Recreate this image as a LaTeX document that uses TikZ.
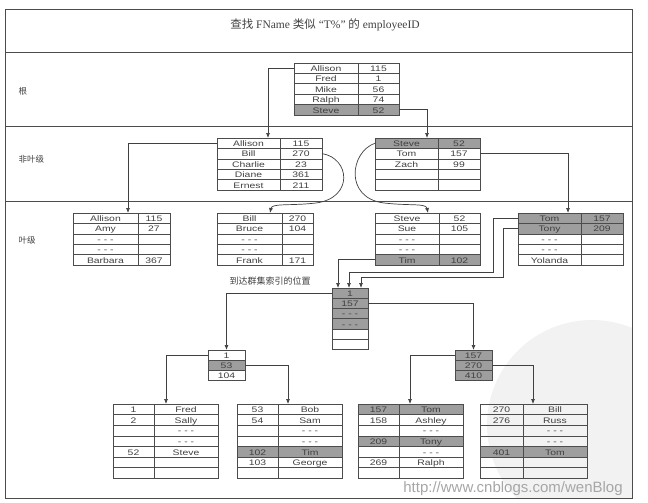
\documentclass[tikz,border=0pt]{standalone}
\usepackage{fontspec}
\setmainfont{Liberation Serif}
\setsansfont{Liberation Sans}
\newfontfamily\cjk{Noto Sans CJK SC}
\newfontfamily\tabfont[FakeStretch=1.3]{Liberation Sans}
\usetikzlibrary{arrows.meta,calc}
\definecolor{shade}{gray}{0.62}
\definecolor{edge}{gray}{0.3}
\definecolor{ink}{gray}{0.25}
\tikzset{
  cell/.style={draw=edge,line width=0.6pt,inner sep=0pt,outer sep=0pt,anchor=north west,
    text height=6.6pt,text depth=0pt,
    font=\tabfont\fontsize{8}{8}\selectfont,text=ink},
  conn/.style={draw=ink,line width=0.7pt,-{Latex[length=5pt,width=4pt]}},
  band/.style={draw=edge,line width=0.7pt},
  lvl/.style={font=\cjk\fontsize{8.5}{9}\selectfont,anchor=west,text=ink},
}
% two-column table: name, x, y, width a, width b, row height, rows a/b/fill
\newcommand\twotab[7]{%
  \foreach [count=\i] \ca/\cb/\cs in {#7} {
    \node[cell,fill=\cs,minimum width=#4pt,minimum height=#6pt] (#1-\i-a) at (#2,{#3+(\i-1)*#6}) {\ca};
    \node[cell,fill=\cs,minimum width=#5pt,minimum height=#6pt] (#1-\i-b) at ({#2+#4},{#3+(\i-1)*#6}) {\cb};
  }}
% one-column table: name, x, y, width, row height, rows text/fill
\newcommand\onetab[6]{%
  \foreach [count=\i] \ct/\cs in {#6} {
    \node[cell,fill=\cs,minimum width=#4pt,minimum height=#5pt] (#1-\i) at (#2,{#3+(\i-1)*#5}) {\ct};
  }}
\begin{document}
\begin{tikzpicture}[x=1pt,y=-1pt]
\useasboundingbox (0,0) rectangle (648,503);
% watermark disk
\begin{scope}
  \clip (5,9) rectangle (632,498);
  \fill[gray!10] (592,425) circle[radius=105pt];
\end{scope}
% frame and bands
\draw[band] (5,9) rectangle (632,498);
\draw[band] (5,52) -- (632,52);
\draw[band] (5,126) -- (632,126);
\draw[band] (5,201) -- (632,201);
\node[font=\fontsize{11.5}{13}\selectfont,text=ink] (title) at (325,25)
  {{\cjk 查找} FName {\cjk 类似} “T\%” {\cjk 的} employeeID};
\node[lvl] (lroot) at (15,91) {根};
\node[lvl] (lnonleaf) at (15,159) {非叶级};
\node[lvl] (lleaf) at (15,240) {叶级};
% root
\twotab{root}{294}{63}{64}{41}{10.4}{Allison/115/none,Fred/1/none,Mike/56/none,Ralph/74/none,Steve/52/shade}
% non-leaf
\twotab{nla}{217}{138}{63}{42}{10.4}{Allison/115/none,Bill/270/none,Charlie/23/none,Diane/361/none,Ernest/211/none}
\twotab{nlb}{375}{138}{63}{42}{10.4}{Steve/52/shade,Tom/157/none,Zach/99/none,{}/{}/none,{}/{}/none}
% leaf
\twotab{lfa}{73}{213}{65}{32}{10.4}{Allison/115/none,Amy/27/none,{- - -}/{}/none,{- - -}/{}/none,Barbara/367/none}
\twotab{lfb}{217}{213}{65}{31}{10.4}{Bill/270/none,Bruce/104/none,{- - -}/{}/none,{- - -}/{}/none,Frank/171/none}
\twotab{lfc}{375}{213}{64}{41}{10.4}{Steve/52/none,Sue/105/none,{- - -}/{}/none,{- - -}/{}/none,Tim/102/shade}
\twotab{lfd}{518}{213}{63}{42}{10.4}{Tom/157/shade,Tony/209/shade,{- - -}/{}/none,{- - -}/{}/none,Yolanda/{}/none}
% clustered index
\node[font=\cjk\fontsize{9}{10}\selectfont,text=ink] (reach) at (270,281) {到达群集索引的位置};
\onetab{ci}{332}{288}{36}{10.2}{1/shade,157/shade,{- - -}/shade,{- - -}/shade,{}/none,{}/none}
\onetab{sa}{208}{350}{37}{10}{1/none,53/shade,104/none}
\onetab{sb}{455}{350}{37}{10}{157/shade,270/shade,410/shade}
% data pages
\twotab{pa}{113}{404}{41}{64}{10.6}{1/Fred/none,2/Sally/none,{}/{- - -}/none,{}/{- - -}/none,52/Steve/none,{}/{}/none,{}/{}/none}
\twotab{pb}{237}{404}{41}{64}{10.6}{53/Bob/none,54/Sam/none,{}/{- - -}/none,{}/{- - -}/none,102/Tim/shade,103/George/none,{}/{}/none}
\twotab{pc}{358}{404}{41}{64}{10.6}{157/Tom/shade,158/Ashley/none,{}/{- - -}/none,209/Tony/shade,{}/{- - -}/none,269/Ralph/none,{}/{}/none}
\twotab{pd}{480}{404}{43}{64}{10.6}{270/Bill/none,276/Russ/none,{}/{- - -}/none,{}/{- - -}/none,401/Tom/shade,{}/{}/none,{}/{}/none}
% connectors
\draw[conn] (root-1-a.west) -| ([xshift=-12pt]nla-1-a.north east);
\draw[conn] (root-5-b.east) -| ([xshift=-11pt]nlb-1-a.north east);
\draw[conn] (nla-1-a.west) -| ([xshift=-10pt]lfa-1-a.north east);
\draw[conn] (nlb-2-b.east) -| ([xshift=-13pt]lfd-1-a.north east);
\draw[conn] (nla-2-b.east) .. controls (350,158) and (354,198) .. (316,203)
  .. controls (290,206) and (272,203) .. ([xshift=-12pt]lfb-1-a.north east);
\draw[conn] (nlb-1-a.west) .. controls (350,152) and (344,198) .. (384,203)
  .. controls (410,206) and (426,203) .. ([xshift=-11pt]lfc-1-a.north east);
\coordinate (tomturn) at (493,272);
\coordinate (tonyturn) at (503,277);
\draw[conn] (lfc-5-a.west) -| ([xshift=-12pt]ci-1.north);
\draw[conn] (lfd-1-a.west) -| (tomturn) -| ([xshift=-1pt]ci-1.north);
\draw[conn] (lfd-2-a.west) -| (tonyturn) -| ([xshift=11pt]ci-1.north);
\draw[conn] (ci-1.west) -| (sa-1.north);
\draw[conn] (ci-2.east) -| (sb-1.north);
\draw[conn] (sa-1.west) -| ([xshift=12pt]pa-1-b.north west);
\draw[conn] (sa-2.east) -| ([xshift=10pt]pb-1-b.north west);
\draw[conn] (sb-1.west) -| ([xshift=11pt]pc-1-b.north west);
\draw[conn] (sb-2.east) -| ([xshift=10pt]pd-1-b.north west);
\node[font=\sffamily\fontsize{15}{16}\selectfont,text=gray!70] (url) at (513,489) {http://www.cnblogs.com/wenBlog};
\end{tikzpicture}
\end{document}
